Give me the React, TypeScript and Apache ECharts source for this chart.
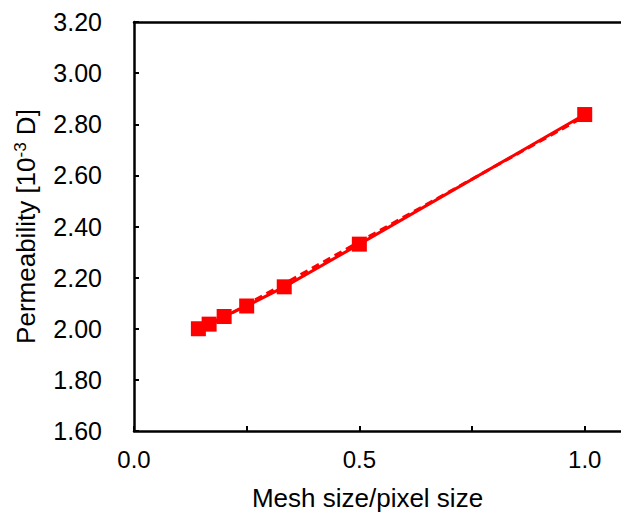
import React, { useEffect, useRef } from "react";
import * as echarts from "echarts";

const meshRatio = [1 / 7, 1 / 6, 1 / 5, 1 / 4, 1 / 3, 1 / 2, 1.0];
const permeability = [2.0, 2.018, 2.048, 2.089, 2.164, 2.331, 2.838];
const fitX = [1 / 7, 1.0];
const fitY = [1.989, 2.831];
const yTicks = { min: 1.6, max: 3.2, step: 0.2 };
const xTicks = { min: 0, max: 1.0805, step: 0.25 };

const FONT = "'Liberation Sans', Arial, Helvetica, sans-serif";

export default function App() {
  const ref = useRef<HTMLDivElement>(null);
  useEffect(() => {
    if (!ref.current) return;
    const chart = echarts.init(ref.current, undefined, { renderer: "svg" });
    const points = meshRatio.map((x, i) => [x, permeability[i]]);
    const fit = fitX.map((x, i) => [x, fitY[i]]);
    const hideExtra = (v: number) => Math.abs(v / 0.25 - Math.round(v / 0.25)) < 1e-9;
    chart.setOption({
      animation: false,
      backgroundColor: "#ffffff",
      textStyle: { fontFamily: FONT, color: "#000" },
      grid: {
        left: 134,
        top: 22,
        bottom: 84,
        right: 0,
        show: false,
      },
      xAxis: [
        {
          type: "value",
          min: xTicks.min,
          max: xTicks.max,
          interval: xTicks.step,
          name: "Mesh size/pixel size",
          nameLocation: "middle",
          nameGap: 54,
          nameTextStyle: {
            fontFamily: FONT,
            fontSize: 26,
            color: "#000",
            padding: [0, 20, 0, 0],
          },
          axisLine: { show: true, lineStyle: { color: "#000", width: 2.5 } },
          axisTick: {
            show: true,
            inside: true,
            length: 5,
            lineStyle: { color: "#000", width: 2 },
          },
          splitLine: { show: false },
          axisLabel: {
            fontFamily: FONT,
            fontSize: 24,
            color: "#000",
            margin: 16,
            showMaxLabel: false,
            formatter: (v: number) =>
              Math.abs(v * 2 - Math.round(v * 2)) < 1e-9 ? v.toFixed(1) : "",
          },
        },
        {
          type: "value",
          position: "top",
          min: xTicks.min,
          max: xTicks.max,
          axisLine: { show: true, lineStyle: { color: "#000", width: 2.5 } },
          axisTick: { show: false },
          axisLabel: { show: false },
          splitLine: { show: false },
        },
      ],
      yAxis: {
        type: "value",
        min: yTicks.min,
        max: yTicks.max,
        interval: yTicks.step,
        name: "Permeability [10{sup|-3} D]",
        nameLocation: "middle",
        nameGap: 95,
        nameRotate: 90,
        nameTextStyle: {
          fontFamily: FONT,
          fontSize: 26,
          color: "#000",
          rich: {
            sup: {
              fontFamily: FONT,
              fontSize: 17,
              color: "#000",
              verticalAlign: "top",
              padding: [0, 0, 10, 0],
            },
          },
        },
        axisLine: { show: true, lineStyle: { color: "#000", width: 2.5 } },
        axisTick: {
          show: true,
          inside: true,
          length: 5,
          lineStyle: { color: "#000", width: 2 },
        },
        splitLine: { show: false },
        axisLabel: {
          fontFamily: FONT,
          fontSize: 25,
          color: "#000",
          margin: 32,
          formatter: (v: number) => v.toFixed(2),
        },
      },
      series: [
        {
          type: "line",
          xAxisIndex: 0,
          data: fit,
          symbol: "none",
          lineStyle: { color: "#ff0000", width: 3, type: [8, 5] },
          z: 2,
        },
        {
          type: "line",
          xAxisIndex: 0,
          data: points,
          symbol: "rect",
          symbolSize: 15,
          itemStyle: { color: "#ff0000" },
          lineStyle: { color: "#ff0000", width: 3 },
          z: 3,
        },
      ],
    });
    void hideExtra;
    return () => chart.dispose();
  }, []);
  return (
    <div
      ref={ref}
      style={{ position: "absolute", left: 0, top: 0, width: 621, height: 516 }}
    />
  );
}
